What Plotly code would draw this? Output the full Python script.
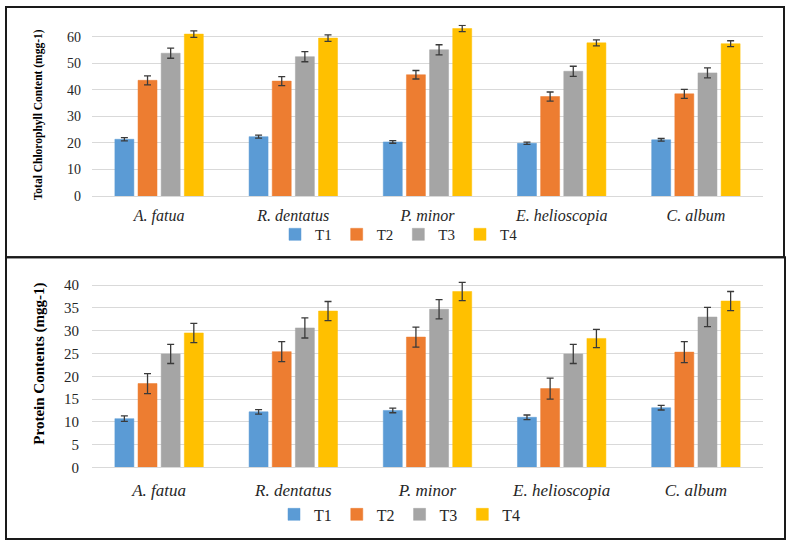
import plotly.graph_objects as go

species = ["A. fatua", "R. dentatus", "P. minor", "E. helioscopia", "C. album"]
treatments = ["T1", "T2", "T3", "T4"]
colors = ["#5B9BD5", "#ED7D31", "#A5A5A5", "#FFC000"]

# Total chlorophyll content (mgg-1)
chl_T1 = [21.4, 22.4, 20.4, 19.9, 21.2]
chl_T2 = [43.6, 43.3, 45.7, 37.5, 38.5]
chl_T3 = [53.8, 52.5, 55.1, 47.0, 46.4]
chl_T4 = [61.0, 59.5, 63.1, 57.7, 57.4]
chl_err_T1 = [0.6, 0.6, 0.5, 0.4, 0.5]
chl_err_T2 = [1.7, 1.7, 1.6, 1.7, 1.7]
chl_err_T3 = [1.9, 1.9, 1.9, 1.9, 1.9]
chl_err_T4 = [1.2, 1.2, 1.2, 1.1, 1.1]

# Protein contents (mgg-1)
pro_T1 = [10.7, 12.2, 12.5, 11.0, 13.1]
pro_T2 = [18.4, 25.4, 28.6, 17.3, 25.3]
pro_T3 = [24.9, 30.6, 34.7, 24.9, 33.0]
pro_T4 = [29.5, 34.3, 38.6, 28.3, 36.5]
pro_err_T1 = [0.6, 0.5, 0.5, 0.5, 0.5]
pro_err_T2 = [2.2, 2.2, 2.2, 2.3, 2.3]
pro_err_T3 = [2.1, 2.2, 2.1, 2.1, 2.1]
pro_err_T4 = [2.1, 2.1, 2.0, 2.0, 2.1]

chl_vals = [chl_T1, chl_T2, chl_T3, chl_T4]
chl_errs = [chl_err_T1, chl_err_T2, chl_err_T3, chl_err_T4]
pro_vals = [pro_T1, pro_T2, pro_T3, pro_T4]
pro_errs = [pro_err_T1, pro_err_T2, pro_err_T3, pro_err_T4]

W, H = 787, 552
SERIF = "Liberation Serif, Times New Roman, serif"


def py(p):
    return (H - p) / H


def px(p):
    return p / W


fig = go.Figure()
for i, t in enumerate(treatments):
    fig.add_trace(go.Bar(
        x=species, y=chl_vals[i], name=t, marker_color=colors[i],
        marker_line=dict(color=colors[i], width=0.5),
        error_y=dict(type="data", array=chl_errs[i], color="#3a3a3a", thickness=1.3, width=3.5),
        xaxis="x", yaxis="y", legend="legend",
    ))
for i, t in enumerate(treatments):
    fig.add_trace(go.Bar(
        x=species, y=pro_vals[i], name=t, marker_color=colors[i],
        marker_line=dict(color=colors[i], width=0.5),
        error_y=dict(type="data", array=pro_errs[i], color="#3a3a3a", thickness=1.3, width=3.5),
        xaxis="x2", yaxis="y2", legend="legend2",
    ))

xdom = [px(92), px(763)]
axis_common = dict(showline=False, zeroline=False, ticks="", gridcolor="#d9d9d9", gridwidth=1)

fig.update_layout(
    width=W, height=H,
    margin=dict(l=0, r=0, t=0, b=0),
    paper_bgcolor="white", plot_bgcolor="white",
    barmode="group", bargap=0.31, bargroupgap=0.18,
    font=dict(family=SERIF, color="#262626"),
    xaxis=dict(domain=xdom, anchor="y", showgrid=False, showline=True, linecolor="#d9d9d9",
               tickfont=dict(family=SERIF, size=16, style="italic", color="#262626"),
               ticks="outside", ticklen=5, tickcolor="rgba(0,0,0,0)"),
    yaxis=dict(domain=[py(199), py(25)], anchor="x", range=[0, 174 / 2.695],
               tickvals=[0, 10, 20, 30, 40, 50, 60], ticklabelstandoff=10,
               tickfont=dict(family=SERIF, size=14, color="#262626"), **axis_common),
    xaxis2=dict(domain=xdom, anchor="y2", showgrid=False, showline=True, linecolor="#d9d9d9",
                tickfont=dict(family=SERIF, size=17, style="italic", color="#262626"),
                ticks="outside", ticklen=7, tickcolor="rgba(0,0,0,0)"),
    yaxis2=dict(domain=[py(474.3), py(280)], anchor="x2", range=[0, 194.3 / 4.625],
                tickvals=[0, 5, 10, 15, 20, 25, 30, 35, 40], ticklabelstandoff=12,
                tickfont=dict(family=SERIF, size=15, color="#262626"), **axis_common),
    legend=dict(orientation="h", x=px(399), y=py(238), xanchor="center", yanchor="middle",
                font=dict(family=SERIF, size=15, color="#262626"),
                itemwidth=30, bgcolor="rgba(0,0,0,0)"),
    legend2=dict(orientation="h", x=px(400), y=py(522), xanchor="center", yanchor="middle",
                 font=dict(family=SERIF, size=16, color="#262626"),
                 itemwidth=30, bgcolor="rgba(0,0,0,0)"),
    annotations=[
        dict(text="<b>Total Chlorophyll Content (mgg-1)</b>", x=px(38), y=py(117), xref="paper",
             yref="paper", xanchor="center", yanchor="middle", textangle=-90, showarrow=False,
             font=dict(family=SERIF, size=11.5, color="#000000")),
        dict(text="<b>Protein Contents (mgg-1)</b>", x=px(40), y=py(369), xref="paper",
             yref="paper", xanchor="center", yanchor="middle", textangle=-90, showarrow=False,
             font=dict(family=SERIF, size=15, color="#000000")),
    ],
    shapes=[
        dict(type="rect", xref="paper", yref="paper", x0=px(6), x1=px(784), y0=py(261), y1=py(7),
             line=dict(color="#1a1a1a", width=2)),
        dict(type="rect", xref="paper", yref="paper", x0=px(6), x1=px(785), y0=py(547), y1=py(261),
             line=dict(color="#1a1a1a", width=2)),
    ],
)

fig.write_html(
    "out.html",
    config={"displayModeBar": False},
    post_script=(
        "document.body.style.margin='0';"
        "document.body.style.overflow='hidden';"
        "document.documentElement.style.overflow='hidden';"
    ),
)
